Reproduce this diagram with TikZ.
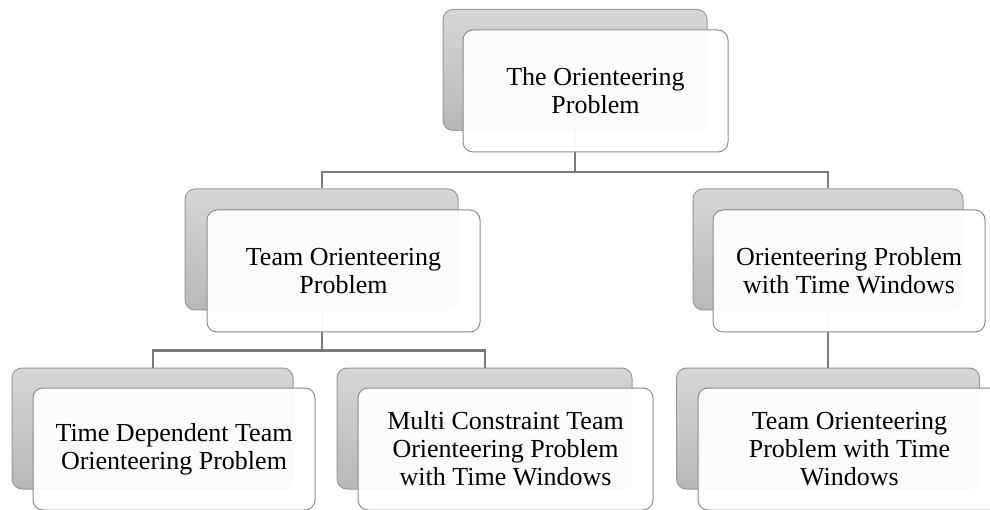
\documentclass[tikz,border=0pt]{standalone}
\usepackage{fontspec}
\setmainfont{Liberation Serif}
\usepackage{tikz}
\usetikzlibrary{positioning}

\begin{document}
\begin{tikzpicture}[x=1pt,y=-1pt,
    backbox/.style={rounded corners=10pt,draw=black!40,line width=1pt,
        top color=black!16,bottom color=black!28,minimum height=121pt,inner sep=0pt},
    frontbox/.style={rounded corners=10pt,draw=black!45,line width=1pt,fill=white,
        fill opacity=0.95,text opacity=1,minimum height=122pt,inner sep=0pt,align=center,
        font=\fontsize{26}{28}\selectfont},
    link/.style={draw=black!52,line width=2pt}]
    \useasboundingbox (0,0) rectangle (990,510);
    \clip (0,0) rectangle (990,510);
    % grey boxes at the back
    \node[backbox,minimum width=264pt] (op-b) at (575,70) {};
    \node[backbox,minimum width=273pt] (top-b) at (321.5,249.5) {};
    \node[backbox,minimum width=270pt] (optw-b) at (828,249.5) {};
    \node[backbox,minimum width=281pt] (tdtop-b) at (152.5,428.5) {};
    \node[backbox,minimum width=295pt] (mctoptw-b) at (484.5,428.5) {};
    \node[backbox,minimum width=303pt] (toptw-b) at (828,428.5) {};
    % links
    \draw[link] (op-b.south) -- ++(0,41) -| (top-b.north);
    \draw[link] (op-b.south) -- ++(0,41) -| (optw-b.north);
    \draw[link] (top-b.south) -- ++(0,40) -| (tdtop-b.north);
    \draw[link] (top-b.south) -- ++(0,40) -| (mctoptw-b.north);
    \draw[link] (optw-b.south) -- (toptw-b.north);
    % white boxes in front
    \node[frontbox,minimum width=265pt] (op) at (595.5,91) {The Orienteering\\Problem};
    \node[frontbox,minimum width=273pt] (top) at (343.5,271) {Team Orienteering\\Problem};
    \node[frontbox,minimum width=272pt] (optw) at (849,271) {Orienteering Problem\\with Time Windows};
    \node[frontbox,minimum width=282pt] (tdtop) at (174,449) {Time Dependent Team\\Orienteering Problem};
    \node[frontbox,minimum width=295pt] (mctoptw) at (505.5,449) {Multi Constraint Team\\Orienteering Problem\\with Time Windows};
    \node[frontbox,minimum width=303pt] (toptw) at (849.5,449) {Team Orienteering\\Problem with Time\\Windows};
\end{tikzpicture}
\end{document}
